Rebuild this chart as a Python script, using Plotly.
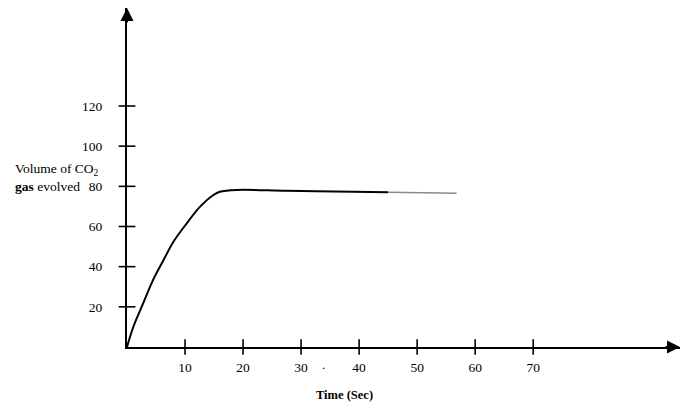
import plotly.graph_objects as go

# Data
time_s = [0, 1.1, 2.8, 4.5, 6.3, 8.0, 10.3, 12.6, 14.9, 16.0, 18.9, 27.5, 39.0, 45.0]
volume = [0, 10.1, 21.8, 33.4, 43.3, 52.4, 61.6, 69.9, 75.7, 77.3, 78.2, 77.8, 77.3, 77.0]
time_tail = [45.0, 51.0, 56.8]
volume_tail = [77.0, 76.8, 76.5]

x_ticks = [10, 20, 30, 40, 50, 60, 70]
y_ticks = [20, 40, 60, 80, 100, 120]

FONT = "Liberation Serif"

fig = go.Figure()

# curve
fig.add_trace(go.Scatter(x=time_s, y=volume, mode="lines",
                         line=dict(color="black", width=2, shape="spline", smoothing=1.0),
                         hoverinfo="skip"))
fig.add_trace(go.Scatter(x=time_tail, y=volume_tail, mode="lines",
                         line=dict(color="#8a8a8a", width=1.5),
                         hoverinfo="skip"))

# crossing tick marks
fig.add_trace(go.Scatter(x=x_ticks, y=[0] * len(x_ticks), mode="markers",
                         marker=dict(symbol="line-ns-open", size=11, color="black",
                                     line=dict(color="black", width=1.6)),
                         cliponaxis=False, hoverinfo="skip"))
fig.add_trace(go.Scatter(x=[0] * len(y_ticks), y=y_ticks, mode="markers",
                         marker=dict(symbol="line-ew-open", size=12, color="black",
                                     line=dict(color="black", width=1.6)),
                         cliponaxis=False, hoverinfo="skip"))

fig.update_layout(
    width=684, height=410,
    margin=dict(l=127, r=4, t=8, b=63),
    paper_bgcolor="white", plot_bgcolor="white",
    showlegend=False,
    font=dict(family=FONT, color="black", size=13),
    xaxis=dict(range=[0, 95.3], showline=True, linecolor="black", linewidth=2,
               showgrid=False, zeroline=False, tickvals=x_ticks, ticks="",
               ticklabelstandoff=7, tickfont=dict(family=FONT, size=13.5, color="black")),
    yaxis=dict(range=[0, 168.8], showline=True, linecolor="black", linewidth=2,
               showgrid=False, zeroline=False, tickvals=y_ticks, ticks="",
               ticklabelstandoff=20, tickfont=dict(family=FONT, size=13.5, color="black")),
)

# arrow heads
fig.add_annotation(x=1, xref="paper", y=0, yref="y", text="", showarrow=True,
                   ax=-16, ay=0, arrowhead=2, arrowsize=1.3, arrowwidth=2, arrowcolor="black")
fig.add_annotation(x=0, xref="x", y=1.0, yref="paper", text="", showarrow=True,
                   ax=0, ay=16, arrowhead=2, arrowsize=1.3, arrowwidth=2, arrowcolor="black")

# axis titles
fig.add_annotation(x=37.4, xref="x", y=-0.142, yref="paper", text="<b>Time (Sec)</b>",
                   showarrow=False, xanchor="center", yanchor="middle",
                   font=dict(family=FONT, size=12.5, color="black"))
fig.add_annotation(x=-0.207, xref="paper", y=84.5, yref="y",
                   text="Volume of CO<sub>2</sub><br><b>gas</b> evolved",
                   showarrow=False, xanchor="left", yanchor="middle", align="left",
                   font=dict(family=FONT, size=13.5, color="black"))
# stray scan dot
fig.add_annotation(x=33.8, xref="x", y=-0.08, yref="paper", text=".",
                   showarrow=False, font=dict(family=FONT, size=13, color="black"))

fig.write_html("out.html")
